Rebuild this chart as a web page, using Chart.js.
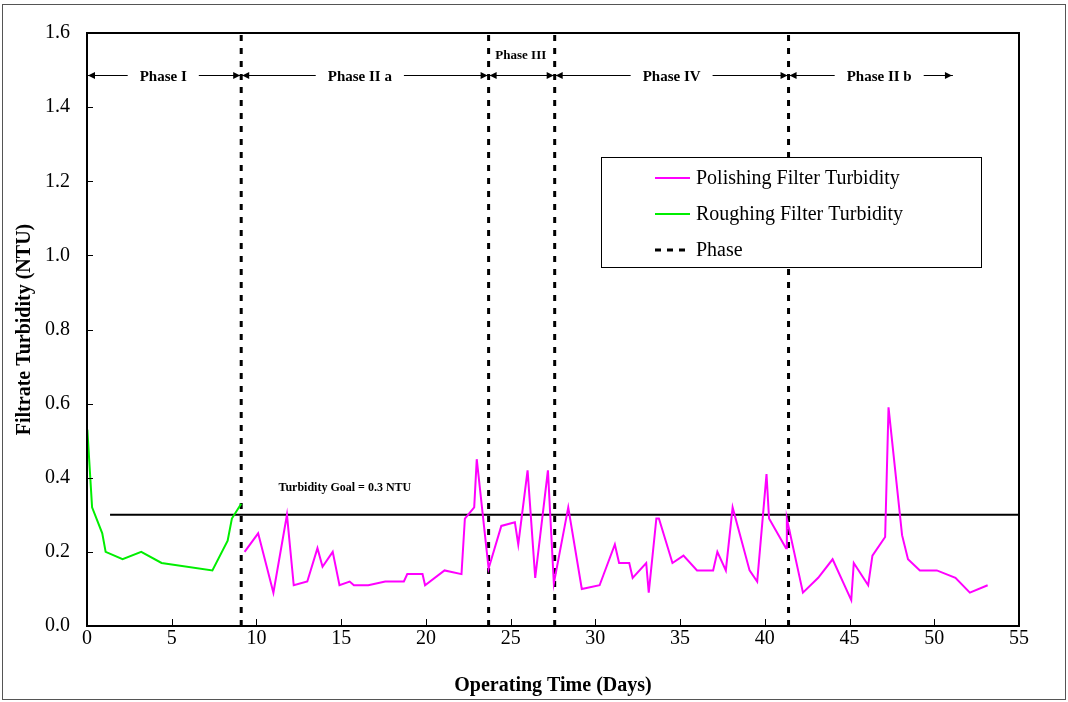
<!DOCTYPE html>
<html>
<head>
<meta charset="utf-8">
<script src="https://cdn.jsdelivr.net/npm/chart.js@4/dist/chart.umd.min.js"></script>
<style>
html,body{margin:0;padding:0;background:#fff;}
#wrap{width:1068px;height:702px;position:relative;}
</style>
</head>
<body>
<div id="wrap"><canvas id="c" width="1068" height="702"></canvas></div>
<script>
// ---- Data ----
const roughingDays = [0.02, 0.3, 0.9, 1.1, 2.1, 3.2, 4.4, 7.4, 8.3, 8.55, 9.1];
const roughingNTU  = [0.53, 0.32, 0.25, 0.20, 0.18, 0.20, 0.17, 0.15, 0.23, 0.29, 0.33];

const polishingDays = [9.3, 10.1, 11.0, 11.8, 12.2, 13.0, 13.6, 13.9, 14.5, 14.9, 15.5, 15.75, 16.6, 17.6, 18.7, 18.9, 19.8, 19.95, 21.1, 22.1, 22.3, 22.85, 23.0, 23.7, 24.45, 25.25, 25.45, 26.0, 26.45, 27.2, 27.55, 28.4, 29.2, 30.25, 31.15, 31.4, 32.0, 32.2, 33.0, 33.15, 33.6, 33.75, 34.55, 35.2, 36.0, 36.95, 37.2, 37.7, 38.1, 39.1, 39.55, 40.1, 40.25, 41.25, 41.3, 42.25, 43.15, 44.0, 45.1, 45.25, 46.1, 46.35, 47.1, 47.3, 48.1, 48.45, 49.15, 50.15, 51.25, 52.1, 53.15];
const polishingNTU  = [0.20, 0.25, 0.09, 0.30, 0.11, 0.12, 0.21, 0.16, 0.20, 0.11, 0.12, 0.11, 0.11, 0.12, 0.12, 0.14, 0.14, 0.11, 0.15, 0.14, 0.29, 0.32, 0.45, 0.155, 0.27, 0.28, 0.22, 0.42, 0.13, 0.42, 0.115, 0.32, 0.10, 0.11, 0.22, 0.17, 0.17, 0.13, 0.17, 0.09, 0.29, 0.29, 0.17, 0.19, 0.15, 0.15, 0.20, 0.15, 0.32, 0.15, 0.12, 0.41, 0.29, 0.21, 0.29, 0.09, 0.13, 0.18, 0.07, 0.17, 0.11, 0.19, 0.24, 0.59, 0.245, 0.18, 0.15, 0.15, 0.13, 0.09, 0.11];

const phaseBoundaries = [9.1, 23.7, 27.6, 41.4];
const phaseNames   = ["Phase I", "Phase II a", "Phase III", "Phase IV", "Phase II b"];
const phaseStarts  = [0, 9.1, 23.7, 27.6, 41.4];
const phaseEnds    = [9.1, 23.7, 27.6, 41.4, 51.1];
const phaseLabelX  = [4.5, 16.1, 25.6, 34.5, 46.75];

const goalValue = 0.3;
const goalStartDay = 1.36;
const goalEndDay = 55;
const goalLabel = "Turbidity Goal = 0.3 NTU";

const xTickValues = [0, 5, 10, 15, 20, 25, 30, 35, 40, 45, 50, 55];
const yTickValues = [0, 0.2, 0.4, 0.6, 0.8, 1.0, 1.2, 1.4, 1.6];

const legendItems = ["Polishing Filter Turbidity", "Roughing Filter Turbidity", "Phase"];

// ---- Build datasets ----
const SERIF = "'Liberation Serif', 'Times New Roman', serif";
const MAGENTA = "#ff00ff", GREEN = "#00ee00";

const datasets = [
  { label: legendItems[0], data: polishingDays.map((d,i)=>({x:d,y:polishingNTU[i]})), borderColor: MAGENTA, borderWidth: 2, pointRadius: 0, tension: 0, fill:false },
  { label: legendItems[1], data: roughingDays.map((d,i)=>({x:d,y:roughingNTU[i]})), borderColor: GREEN, borderWidth: 2, pointRadius: 0, tension: 0, fill:false },
  { label: "Goal", data: [{x:goalStartDay,y:goalValue},{x:goalEndDay,y:goalValue}], borderColor: "#000", borderWidth: 2, pointRadius: 0 }
];
phaseBoundaries.forEach(b => datasets.push({ label: legendItems[2], data: [{x:b,y:0},{x:b,y:1.6}], borderColor:"#000", borderWidth:3, borderDash:[6,7], pointRadius:0 }));

// ---- Plugins ----
function arrowHead(ctx, x, y, dir){
  ctx.beginPath();
  ctx.moveTo(x, y);
  ctx.lineTo(x - dir*7, y - 3.5);
  ctx.lineTo(x - dir*7, y + 3.5);
  ctx.closePath();
  ctx.fill();
}

const decor = {
  id: 'decor',
  beforeDraw(chart){
    const ctx = chart.ctx;
    ctx.save();
    ctx.fillStyle = '#fff';
    ctx.fillRect(0,0,chart.width,chart.height);
    ctx.restore();
  },
  afterDraw(chart){
    const ctx = chart.ctx, xs = chart.scales.x, ys = chart.scales.y, a = chart.chartArea;
    ctx.save();
    // outer frame
    ctx.strokeStyle = '#555'; ctx.lineWidth = 1;
    ctx.strokeRect(2.5, 4.5, 1063, 695);
    // plot frame
    ctx.strokeStyle = '#000'; ctx.lineWidth = 2;
    ctx.strokeRect(a.left, a.top, a.right - a.left, a.bottom - a.top);
    // inward ticks
    ctx.lineWidth = 1;
    ys.ticks.forEach(t => { const y = Math.round(ys.getPixelForValue(t.value)) + 0.5; ctx.beginPath(); ctx.moveTo(a.left, y); ctx.lineTo(a.left + 6, y); ctx.stroke(); });
    xs.ticks.forEach(t => { const x = Math.round(xs.getPixelForValue(t.value)) + 0.5; ctx.beginPath(); ctx.moveTo(x, a.bottom); ctx.lineTo(x, a.bottom - 7); ctx.stroke(); });
    // goal label
    ctx.fillStyle = '#000';
    ctx.font = "bold 12px " + SERIF;
    ctx.textAlign = 'left'; ctx.textBaseline = 'middle';
    ctx.fillText(goalLabel, xs.getPixelForValue(11.3), ys.getPixelForValue(0.372));
    // phase annotations
    const ay = 75.5;
    ctx.lineWidth = 1;
    phaseNames.forEach((name, i) => {
      const x0 = xs.getPixelForValue(phaseStarts[i]);
      const x1 = xs.getPixelForValue(phaseEnds[i]);
      const cx = xs.getPixelForValue(phaseLabelX[i]);
      if (i === 2) {
        ctx.font = "bold 13px " + SERIF;
        ctx.textAlign = 'center';
        ctx.fillText(name, cx, 56);
        ctx.beginPath(); ctx.moveTo(x0, ay); ctx.lineTo(x1, ay); ctx.stroke();
        arrowHead(ctx, x0 + 1, ay, -1); arrowHead(ctx, x1 - 1, ay, 1);
      } else {
        ctx.font = "bold 15px " + SERIF;
        ctx.textAlign = 'center';
        const w = ctx.measureText(name).width;
        ctx.fillText(name, cx, 77);
        const l1 = cx - w/2 - 12, r1 = cx + w/2 + 12;
        ctx.beginPath(); ctx.moveTo(x0, ay); ctx.lineTo(l1, ay); ctx.moveTo(r1, ay); ctx.lineTo(x1, ay); ctx.stroke();
        arrowHead(ctx, x0 + 1, ay, -1); arrowHead(ctx, x1 - 1, ay, 1);
      }
    });
    // legend
    ctx.fillStyle = '#fff';
    ctx.fillRect(601, 157, 380, 110);
    ctx.strokeStyle = '#000'; ctx.lineWidth = 1;
    ctx.strokeRect(601.5, 157.5, 380, 110);
    const rows = [178, 214, 250];
    const styles = [{c:MAGENTA,w:2,d:[]},{c:GREEN,w:2,d:[]},{c:'#000',w:3,d:[6,6]}];
    ctx.font = "20px " + SERIF;
    ctx.textAlign = 'left'; ctx.textBaseline = 'middle';
    legendItems.forEach((t, i) => {
      ctx.strokeStyle = styles[i].c; ctx.lineWidth = styles[i].w; ctx.setLineDash(styles[i].d);
      ctx.beginPath(); ctx.moveTo(655, rows[i]); ctx.lineTo(690, rows[i]); ctx.stroke();
      ctx.setLineDash([]);
      ctx.fillStyle = '#000';
      ctx.fillText(t, 696, rows[i] + 1);
    });
    ctx.restore();
  }
};

new Chart(document.getElementById('c'), {
  type: 'line',
  data: { datasets },
  options: {
    responsive: false,
    animation: false,
    devicePixelRatio: 1,
    layout: { padding: { left: 0, top: 33, right: 49, bottom: 0 } },
    plugins: { legend: { display: false }, tooltip: { enabled: false } },
    scales: {
      x: {
        type: 'linear', min: 0, max: 55,
        afterBuildTicks: s => { s.ticks = xTickValues.map(v => ({value: v})); },
        afterFit: s => { s.height = 76; },
        grid: { display: false, drawTicks: false },
        border: { display: false },
        ticks: { color: '#000', font: { family: SERIF, size: 20 }, padding: 1, maxRotation: 0, autoSkip: false },
        title: { display: true, text: 'Operating Time (Days)', color: '#000', font: { family: SERIF, size: 20, weight: 'bold' }, padding: { top: 4, bottom: 4 } }
      },
      y: {
        type: 'linear', min: 0, max: 1.6,
        afterBuildTicks: s => { s.ticks = yTickValues.map(v => ({value: v})); },
        afterFit: s => { s.width = 87; },
        grid: { display: false, drawTicks: false },
        border: { display: false },
        ticks: { color: '#000', font: { family: SERIF, size: 20 }, padding: 17, callback: v => Number(v).toFixed(1), autoSkip: false },
        title: { display: true, text: 'Filtrate Turbidity (NTU)', color: '#000', font: { family: SERIF, size: 20, weight: 'bold' }, padding: { top: 13, bottom: 0 } }
      }
    }
  },
  plugins: [decor]
});
</script>
</body>
</html>
